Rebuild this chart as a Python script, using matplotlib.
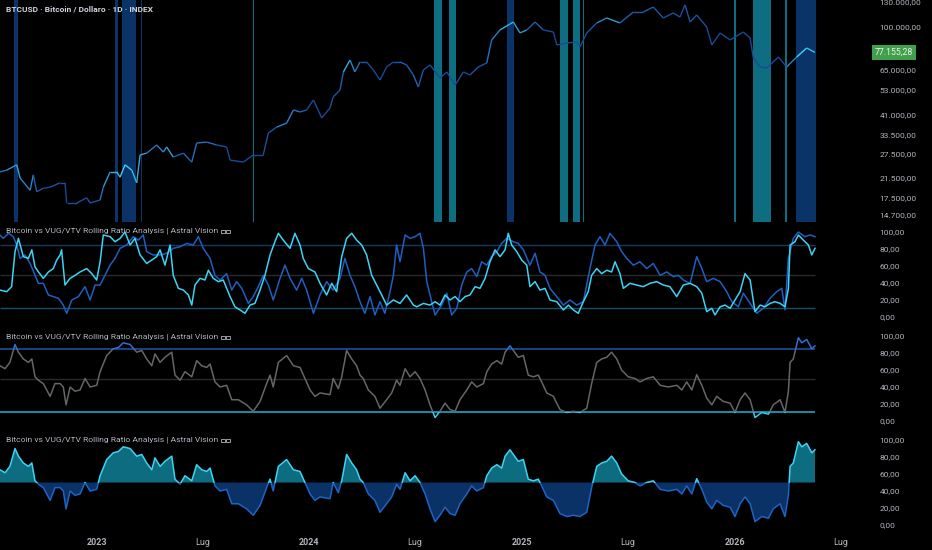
import numpy as np
import matplotlib
matplotlib.use("Agg")
import matplotlib.pyplot as plt
import matplotlib.transforms as mtransforms
from matplotlib.collections import LineCollection
from matplotlib.colors import LinearSegmentedColormap
from matplotlib.patches import Rectangle

plt.rcParams['font.family'] = ['Roboto', 'DejaVu Sans']

# ---- data (time as fractional year) ----
price_t = [2022.545, 2022.577, 2022.624, 2022.640, 2022.687, 2022.702, 2022.718, 2022.749, 2022.781, 2022.828,
           2022.851, 2022.859, 2022.906, 2022.953, 2022.969, 2023.016, 2023.031, 2023.063, 2023.094, 2023.110,
           2023.133, 2023.165, 2023.188, 2023.204, 2023.235, 2023.282, 2023.313, 2023.329, 2023.360, 2023.407,
           2023.447, 2023.470, 2023.517, 2023.564, 2023.611, 2023.627, 2023.690, 2023.736, 2023.783, 2023.807,
           2023.846, 2023.893, 2023.925, 2023.956, 2023.987, 2024.019, 2024.058, 2024.097, 2024.112, 2024.144,
           2024.160, 2024.191, 2024.214, 2024.238, 2024.269, 2024.301, 2024.332, 2024.363, 2024.395, 2024.426,
           2024.457, 2024.489, 2024.512, 2024.536, 2024.567, 2024.614, 2024.646, 2024.685, 2024.724, 2024.755,
           2024.794, 2024.834, 2024.857, 2024.896, 2024.959, 2024.990, 2025.022, 2025.061, 2025.100, 2025.147,
           2025.163, 2025.210, 2025.257, 2025.272, 2025.304, 2025.351, 2025.398, 2025.460, 2025.523, 2025.570,
           2025.617, 2025.664, 2025.711, 2025.742, 2025.766, 2025.790, 2025.821, 2025.868, 2025.892, 2025.931,
           2025.978, 2026.040, 2026.072, 2026.087, 2026.119, 2026.150, 2026.205, 2026.244, 2026.291, 2026.338,
           2026.377]
price_usd = [22800, 23200, 24500, 21400, 18900, 22100, 18600, 19300, 19500, 20400,
             20400, 16600, 16600, 17500, 16600, 17100, 19500, 22800, 22800, 21600,
             24500, 23200, 20400, 27100, 27600, 30000, 27900, 29400, 26500, 27600,
             25200, 30600, 30900, 30000, 29400, 25700, 25200, 27100, 27100, 33900,
             36000, 37500, 42900, 42000, 42900, 47500, 39500, 43800, 49000, 52600,
             63200, 71400, 63200, 70000, 70000, 64500, 58200, 66500, 70000, 70000,
             67900, 61300, 54200, 64500, 67900, 59400, 63200, 55300, 63200, 61300,
             66500, 69300, 87600, 97000, 105200, 94100, 97000, 105200, 97000, 95000,
             83200, 84900, 85800, 81500, 94100, 104200, 109600, 104200, 116500, 116500,
             122600, 109600, 115400, 110700, 125200, 105200, 113000, 100000, 83200, 94100,
             87600, 95000, 89400, 72900, 66500, 65800, 73600, 66500, 73600, 80700,
             77155.28]
last_price = 77155.28

# fast rolling ratio rank (light cyan, panel 2)
fast_t = [2022.545, 2022.577, 2022.600, 2022.616, 2022.632, 2022.655, 2022.679, 2022.695, 2022.710, 2022.726,
          2022.749, 2022.773, 2022.796, 2022.812, 2022.828, 2022.835, 2022.851, 2022.875, 2022.898, 2022.922,
          2022.953, 2022.977, 2023.000, 2023.016, 2023.031, 2023.063, 2023.086, 2023.110, 2023.133, 2023.157,
          2023.180, 2023.204, 2023.235, 2023.259, 2023.282, 2023.298, 2023.321, 2023.345, 2023.360, 2023.384,
          2023.407, 2023.431, 2023.447, 2023.462, 2023.486, 2023.509, 2023.525, 2023.548, 2023.572, 2023.595,
          2023.627, 2023.650, 2023.674, 2023.697, 2023.721, 2023.744, 2023.768, 2023.791, 2023.815, 2023.838,
          2023.854, 2023.877, 2023.909, 2023.932, 2023.956, 2023.971, 2023.995, 2024.026, 2024.050, 2024.081,
          2024.105, 2024.128, 2024.152, 2024.175, 2024.199, 2024.222, 2024.246, 2024.269, 2024.293, 2024.316,
          2024.340, 2024.363, 2024.395, 2024.426, 2024.457, 2024.489,
          2024.505, 2024.536, 2024.567, 2024.591, 2024.614, 2024.638, 2024.661, 2024.685, 2024.708, 2024.732,
          2024.755, 2024.779, 2024.802, 2024.826, 2024.849, 2024.873, 2024.896, 2024.920, 2024.935, 2024.951,
          2024.975, 2024.998, 2025.022, 2025.037, 2025.061, 2025.084, 2025.108, 2025.131, 2025.163, 2025.194,
          2025.218, 2025.241, 2025.264, 2025.288, 2025.311, 2025.327, 2025.351, 2025.374, 2025.398, 2025.421,
          2025.437, 2025.460, 2025.476, 2025.507, 2025.539, 2025.570, 2025.601, 2025.633, 2025.664, 2025.695,
          2025.727, 2025.758, 2025.790, 2025.821, 2025.845, 2025.868, 2025.892, 2025.907, 2025.931, 2025.954,
          2025.978, 2026.001, 2026.025, 2026.048, 2026.072, 2026.095, 2026.119, 2026.142, 2026.166, 2026.189,
          2026.213, 2026.236, 2026.252, 2026.260, 2026.283, 2026.299, 2026.322, 2026.346, 2026.362, 2026.377]
fast_rank = [31.7, 29.8, 35.7, 77, 92.5, 71, 69, 79, 59, 53,
             45.5, 53, 57, 67, 73, 79, 37.6, 45.5, 49, 53,
             57, 51, 43.5, 65, 96.5, 94.5, 88.6, 92.5, 100, 84.7,
             92.5, 73, 63, 67, 71, 79, 61, 84.7, 49, 33.7,
             31.7, 25.9, 14, 37.6, 45.5, 43.5, 55, 45.5, 41.6, 43.5,
             24, 12, 8.3, 4.3, 14, 16, 31.7, 49, 73, 88.6,
             98.5, 90.5, 80.8, 98.5, 84.7, 69, 57, 53, 39.6, 25.9,
             39.6, 29.8, 71, 92.5, 98.5, 90.5, 84.7, 73, 49, 37.6,
             25.9, 14, 20, 16, 25.9, 14,
             12, 16, 14, 18, 14, 25.9, 20, 24, 18, 24,
             25.9, 35.7, 33.7, 45.5, 65, 79, 71, 79, 98.5, 84.7,
             76.9, 67, 61, 35.7, 41.6, 31.7, 33.7, 20, 18, 8.3,
             14, 8.3, 4.3, 18, 29.8, 49, 57, 51, 55, 53,
             65, 51, 33.7, 39.6, 37.6, 35.7, 39.6, 41.6, 37.6, 35.7,
             24, 37.6, 39.6, 35.7, 28, 6.3, 10.2, 2.4, 12, 14,
             10.2, 20, 29.8, 51, 43.5, 6.3, 14, 12, 16, 18,
             16, 12, 33.7, 84.7, 88.6, 96.5, 90.5, 84.7, 73, 80.8]

# slow rolling ratio rank (blue, panel 2)
slow_t = [2022.545, 2022.561, 2022.585, 2022.608, 2022.624, 2022.640, 2022.663, 2022.687, 2022.710, 2022.726,
          2022.749, 2022.773, 2022.796, 2022.820, 2022.843, 2022.859, 2022.883, 2022.914, 2022.945, 2022.969,
          2022.992, 2023.016, 2023.039, 2023.063, 2023.086, 2023.110, 2023.141, 2023.172, 2023.196, 2023.219,
          2023.235, 2023.266, 2023.298, 2023.329, 2023.360, 2023.392, 2023.423, 2023.454, 2023.478, 2023.501,
          2023.533, 2023.556, 2023.580, 2023.611, 2023.635, 2023.658, 2023.682, 2023.713, 2023.736, 2023.760,
          2023.783, 2023.807, 2023.830, 2023.862, 2023.885, 2023.909, 2023.940, 2023.964, 2023.987, 2024.019,
          2024.050, 2024.081, 2024.112, 2024.144, 2024.167, 2024.191, 2024.214, 2024.238, 2024.261, 2024.285,
          2024.308, 2024.332, 2024.355, 2024.379, 2024.395, 2024.410, 2024.426, 2024.450, 2024.473,
          2024.497, 2024.520, 2024.536, 2024.552, 2024.575, 2024.591, 2024.622, 2024.646, 2024.669, 2024.693,
          2024.716, 2024.740, 2024.763, 2024.787, 2024.810, 2024.834, 2024.857, 2024.881, 2024.904, 2024.928,
          2024.959, 2024.982, 2025.006, 2025.037, 2025.061, 2025.084, 2025.108, 2025.131, 2025.163, 2025.194,
          2025.225, 2025.257, 2025.288, 2025.319, 2025.343, 2025.366, 2025.390, 2025.413, 2025.445, 2025.468,
          2025.492, 2025.523, 2025.554, 2025.586, 2025.617, 2025.649, 2025.680, 2025.711, 2025.735, 2025.758,
          2025.790, 2025.821, 2025.845, 2025.868, 2025.899, 2025.931, 2025.962, 2025.986, 2026.017, 2026.040,
          2026.072, 2026.103, 2026.134, 2026.166, 2026.197, 2026.221, 2026.236, 2026.252, 2026.275, 2026.299,
          2026.330, 2026.354, 2026.377]
slow_rank = [96.5, 92.5, 98.5, 94.5, 84.7, 69, 73, 63, 49, 39.6,
             39.6, 25.9, 24, 22, 14, 4.3, 20, 24, 35.7, 20,
             37.6, 37.6, 49, 61, 69, 80.8, 84.7, 94.5, 90.5, 96.5,
             76.9, 72.9, 73, 75, 80.8, 82.7, 86.6, 84.7, 94.5, 80.8,
             69, 49, 43.5, 51, 31.7, 41.6, 33.7, 16, 24, 35.7,
             49, 37.6, 20, 45.5, 61, 45.5, 31.7, 45.5, 31.7, 4.3,
             25.9, 41.6, 31.7, 45.5, 69, 49, 35.7, 18, 4.3, 24,
             2.4, 18, 4.3, 29.8, 49, 84.7, 65, 96.5, 92.5,
             94.5, 98.5, 80.8, 41.6, 18, 2.4, 14, 28, 2.4, 10.2,
             37.6, 53, 57, 47.5, 65, 61, 71, 76.9, 86.6, 92.5,
             88.6, 86.6, 79, 61, 75, 53, 49, 33.7, 24, 14,
             20, 14, 18, 57, 84.7, 94.5, 84.7, 98.5, 88.6, 76.9,
             69, 61, 65, 57, 63, 49, 53, 47.5, 49, 43.5,
             39.6, 71, 57, 41.6, 45.5, 41.6, 29.8, 18, 12, 28,
             16, 4.3, 10.2, 22, 29.8, 33.7, 8.3, 69, 92.5, 100,
             94.5, 96.5, 94.5]

# combined ratio rank (panels 3 and 4)
ratio_t = [2022.545, 2022.569, 2022.592, 2022.616, 2022.632, 2022.655, 2022.679, 2022.695, 2022.710, 2022.726,
           2022.749, 2022.781, 2022.804, 2022.828, 2022.843, 2022.856, 2022.875, 2022.898, 2022.922, 2022.945,
           2022.969, 2023.000, 2023.016, 2023.047, 2023.078, 2023.102, 2023.125, 2023.157, 2023.188, 2023.212,
           2023.235, 2023.259, 2023.274, 2023.298, 2023.321, 2023.353, 2023.368, 2023.392, 2023.415, 2023.447,
           2023.470, 2023.494, 2023.517, 2023.533, 2023.556, 2023.580, 2023.611, 2023.635, 2023.666, 2023.705,
           2023.736, 2023.768, 2023.799, 2023.815, 2023.830, 2023.854, 2023.893, 2023.925, 2023.956, 2023.979,
           2024.003, 2024.026, 2024.050, 2024.097, 2024.112, 2024.136, 2024.152, 2024.175, 2024.199, 2024.222,
           2024.238, 2024.253, 2024.277, 2024.308, 2024.332, 2024.363, 2024.387, 2024.410, 2024.426, 2024.450,
           2024.473, 2024.497, 2024.520,
           2024.544, 2024.567, 2024.591, 2024.614, 2024.638, 2024.661, 2024.685, 2024.708, 2024.740, 2024.763,
           2024.787, 2024.818, 2024.834, 2024.857, 2024.881, 2024.904, 2024.920, 2024.943, 2024.959, 2024.982,
           2025.006, 2025.029, 2025.053, 2025.076, 2025.092, 2025.116, 2025.147, 2025.178, 2025.210, 2025.241,
           2025.272, 2025.304, 2025.327, 2025.351, 2025.374, 2025.398, 2025.421, 2025.445, 2025.468, 2025.499,
           2025.531, 2025.554, 2025.586, 2025.617, 2025.649, 2025.688, 2025.727, 2025.751, 2025.774, 2025.798,
           2025.821, 2025.845, 2025.868, 2025.892, 2025.915, 2025.946, 2025.978, 2026.001, 2026.025, 2026.048,
           2026.072, 2026.095, 2026.127, 2026.158, 2026.181, 2026.213, 2026.236, 2026.252, 2026.260, 2026.275,
           2026.299, 2026.315, 2026.338, 2026.362, 2026.377]
ratio_rank = [65, 61.5, 69, 90, 81, 73, 69, 73, 52, 48,
              44, 29, 44, 44, 40, 19, 40, 35, 36.5, 50,
              40, 42, 58, 77, 85, 86.5, 92, 90, 81, 83,
              73, 65, 79, 69, 75, 81, 54, 48, 58, 52,
              71, 65, 63, 67, 46, 40, 42, 25, 25, 19,
              11.5, 23, 44, 54, 40, 69, 77, 65, 63, 50,
              36.5, 29, 33, 31, 50, 38, 52, 83, 73, 65,
              54, 50, 36.5, 29, 15, 25, 33, 48, 42, 61.5,
              52, 58, 50,
              36.5, 19, 4, 11.5, 21, 13.5, 11.5, 25, 36.5, 46,
              40, 44, 58, 67, 71, 67, 81, 88.5, 83, 75,
              77, 54, 52, 54, 46, 33, 29, 13.5, 10, 11.5,
              10, 15, 44, 69, 73, 75, 81, 73, 60, 52,
              50, 46, 50, 52, 42, 40, 42, 36.5, 46, 36.5,
              54.5, 42, 27, 19, 29, 23, 21, 10, 25, 33,
              25, 4, 10, 8, 19, 25, 10, 35, 69, 73,
              98, 92, 96, 85, 88.5]

# highlighted periods on the price pane
bands_blue = [(2022.611, 2022.629), (2023.086, 2023.100), (2023.119, 2023.185), (2023.208, 2023.214),
              (2024.928, 2024.963), (2026.288, 2026.382)]
bands_teal = [(2023.735, 2023.741), (2024.586, 2024.622), (2024.657, 2024.688), (2025.178, 2025.214),
              (2025.238, 2025.272), (2025.285, 2025.293), (2025.996, 2026.004), (2026.084, 2026.169),
              (2026.236, 2026.244)]

price_ticks = [130000, 100000, 65000, 53000, 41000, 33500, 27500, 21500, 17500, 14700]
osc_ticks = [0, 20, 40, 60, 80, 100]
x_ticks = [2023.0, 2023.496, 2024.0, 2024.497, 2025.0, 2025.496, 2026.0, 2026.496]
x_labels = ["2023", "Lug", "2024", "Lug", "2025", "Lug", "2026", "Lug"]

panel_title = "Bitcoin vs VUG/VTV Rolling Ratio Analysis | Astral Vision"
main_title = "BTCUSD \u00b7 Bitcoin / Dollaro \u00b7 1D \u00b7 INDEX"

# ---- style ----
BG = "#000000"
TXT = "#b2b5be"
CYAN = "#3dd3f2"
BLUE = "#1f5fbf"
W, H = 932, 550
X_LEFT, X_RIGHT = 2022.5454, 2026.6357


def it_num(v):
    s = f"{v:,.2f}"
    return s.replace(",", "_").replace(".", ",").replace("_", ".")


def panel(top, bottom):
    ax = fig.add_axes([0, 1 - bottom / H, 870 / W, (bottom - top) / H])
    ax.set_facecolor(BG)
    for s in ax.spines.values():
        s.set_visible(False)
    ax.set_xlim(X_LEFT, X_RIGHT)
    ax.yaxis.tick_right()
    ax.tick_params(axis='y', length=0, pad=7, labelsize=6, labelcolor=TXT)
    ax.tick_params(axis='x', length=0, labelbottom=False)
    return ax


fig = plt.figure(figsize=(W / 100, H / 100), dpi=100, facecolor=BG)

# ---- price pane ----
ax1 = panel(0, 222)
ax1.set_yscale('log')
ax1.set_ylim(13670, 131700)
for a, b in bands_blue:
    ax1.axvspan(a, b, color="#0a3468", lw=0, zorder=1)
for a, b in bands_teal:
    ax1.axvspan(a, b, color="#0f6d81", lw=0, zorder=1)

pt = np.array(price_t)
pv = np.array(price_usd)
pts = np.column_stack([pt, pv]).reshape(-1, 1, 2)
segs = np.concatenate([pts[:-1], pts[1:]], axis=1)
shade = np.interp((pt[:-1] + pt[1:]) / 2, ratio_t, ratio_rank)
cmap = LinearSegmentedColormap.from_list("btc", ["#1a4a96", "#1f5fb4", "#2b86c8", "#42d2f2"])
lc = LineCollection(segs, cmap=cmap, norm=plt.Normalize(35, 92), linewidth=1.0, zorder=3)
lc.set_array(shade)
ax1.add_collection(lc)

ax1.yaxis.set_major_locator(matplotlib.ticker.FixedLocator(price_ticks))
ax1.yaxis.set_minor_locator(matplotlib.ticker.NullLocator())
ax1.set_yticklabels([it_num(v) for v in price_ticks])
ax1.tick_params(axis='y', which='minor', length=0)
ax1.text(6 / 870, 1 - 9 / 222, main_title, transform=ax1.transAxes, color="#d1d4dc",
         fontsize=6, fontweight='bold', va='center', ha='left')
trans = mtransforms.blended_transform_factory(ax1.transAxes, ax1.transData)
ax1.text(875 / 870, last_price, it_num(last_price), transform=trans, color="#e8f5e9",
         fontsize=6.3, va='center', ha='left', clip_on=False, zorder=10,
         bbox=dict(facecolor="#3f9f4a", edgecolor='none', boxstyle='square,pad=0.3'))

t0, t1 = ratio_t[0], ratio_t[-1]

# ---- panel 2: fast / slow ranks ----
ax2 = panel(223, 326)
ax2.set_ylim(-10.6, 110.6)
ax2.hlines(85, t0, t1, color="#173a5c", lw=1.0)
ax2.hlines(50, t0, t1, color="#2a2a2a", lw=1.0)
ax2.hlines(10, t0, t1, color="#15506a", lw=1.0)
ax2.plot(slow_t, slow_rank, color=BLUE, lw=1.1)
ax2.plot(fast_t, fast_rank, color=CYAN, lw=1.1)
ax2.set_yticks(osc_ticks)
ax2.set_yticklabels([it_num(v) for v in osc_ticks])

# ---- panel 3: combined rank with zones ----
ax3 = panel(327, 430)
ax3.set_ylim(-10.6, 110.6)
ax3.hlines(85, t0, t1, color="#1f4f9c", lw=1.2)
ax3.hlines(50, t0, t1, color="#2a2a2a", lw=1.0)
ax3.hlines(10, t0, t1, color="#1aa7c4", lw=1.2)
for lo, hi, col in [(10, 85, "#666666"), (85, 200, "#2f6fd6"), (-100, 10, "#35cdef")]:
    ln, = ax3.plot(ratio_t, ratio_rank, color=col, lw=1.1)
    ln.set_clip_path(Rectangle((X_LEFT, lo), X_RIGHT - X_LEFT, hi - lo, transform=ax3.transData))
ax3.set_yticks(osc_ticks)
ax3.set_yticklabels([it_num(v) for v in osc_ticks])

# ---- panel 4: rank around the midline ----
ax4 = panel(431, 532)
ax4.set_ylim(-8.2, 110.6)
rt = np.array(ratio_t)
rv = np.array(ratio_rank)
ax4.fill_between(rt, rv, 50, where=rv >= 50, interpolate=True, color="#0e6c80", lw=0)
ax4.fill_between(rt, rv, 50, where=rv < 50, interpolate=True, color="#0a3266", lw=0)
for lo, hi, col in [(50, 200, CYAN), (-100, 50, "#1f63c4")]:
    ln, = ax4.plot(rt, rv, color=col, lw=1.1)
    ln.set_clip_path(Rectangle((X_LEFT, lo), X_RIGHT - X_LEFT, hi - lo, transform=ax4.transData))
ax4.set_yticks(osc_ticks)
ax4.set_yticklabels([it_num(v) for v in osc_ticks])
ax4.set_xticks(x_ticks)
ax4.set_xticklabels(x_labels)
ax4.tick_params(axis='x', labelbottom=True, labelsize=6.5, labelcolor=TXT, pad=4)
for lab in ax4.get_xticklabels():
    if lab.get_text() != "Lug":
        lab.set_fontweight('bold')

titles = []
for ax, ypx, top in [(ax2, 231, 223), (ax3, 337, 327), (ax4, 440, 431)]:
    h = ax.get_position().height * H
    titles.append(ax.text(6 / 870, 1 - (ypx - top) / h, panel_title, transform=ax.transAxes, color=TXT,
                          fontsize=6.1, va='center', ha='left', zorder=10))

# the Italian flag emoji has no glyph in any installed font: draw it as two small boxes
fig.canvas.draw()
renderer = fig.canvas.get_renderer()
for t in titles:
    bb = t.get_window_extent(renderer)
    for i in range(2):
        fig.add_artist(Rectangle((bb.x1 + 3 + i * 5, bb.y0 + 1.5), 3.8, bb.height - 3.5,
                                 transform=mtransforms.IdentityTransform(),
                                 facecolor='none', edgecolor=TXT, lw=0.6))

fig.savefig("out.png", dpi=100, facecolor=BG)
